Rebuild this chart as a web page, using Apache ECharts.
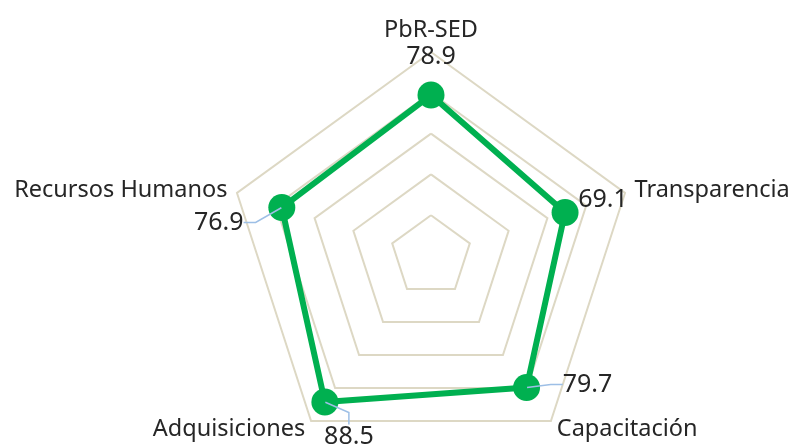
<!DOCTYPE html>
<html>
<head>
<meta charset="utf-8">
<script src="https://cdn.jsdelivr.net/npm/echarts@6/dist/echarts.min.js"></script>
<style>
html,body{margin:0;padding:0;background:#fff;}
#chart{width:795px;height:445px;}
</style>
</head>
<body>
<div id="chart"></div>
<script>
// Indicators in ECharts radar order (counter-clockwise from top)
var categories = ['PbR-SED', 'Recursos Humanos', 'Adquisiciones', 'Capacitación', 'Transparencia'];
var values = [78.9, 76.9, 88.5, 79.7, 69.1];
var maxValue = 100;

// label placement (style only), same order as categories
var labelOffsets = [[0, -38], [-63, 15], [24, 35], [61, -3], [38, -13]];
var labelLineShown = [false, true, true, true, false];

var chart = echarts.init(document.getElementById('chart'), null, {renderer: 'canvas'});
var FONT = '"Noto Sans", "Open Sans", sans-serif';
var CENTER = [431, 256];
var RADIUS = 204;

chart.setOption({
  animation: false,
  backgroundColor: '#ffffff',
  radar: {
    center: CENTER,
    radius: RADIUS,
    shape: 'polygon',
    splitNumber: 5,
    nameGap: 10,
    indicator: categories.map(function (c) { return {name: c, min: 0, max: maxValue}; }),
    axisName: {color: '#262626', fontSize: 23.5, fontFamily: FONT},
    axisLine: {show: false},
    axisTick: {show: false},
    axisLabel: {show: false},
    splitArea: {show: false},
    splitLine: {lineStyle: {color: '#ddd8c4', width: 2}}
  },
  // invisible polar system aligned with the radar, used only to place value labels
  polar: {center: CENTER, radius: RADIUS},
  angleAxis: {
    type: 'category',
    data: categories,
    boundaryGap: false,
    startAngle: 90,
    clockwise: false,
    axisLine: {show: false}, axisTick: {show: false}, axisLabel: {show: false},
    splitLine: {show: false}, splitArea: {show: false}
  },
  radiusAxis: {
    type: 'value', min: 0, max: maxValue,
    axisLine: {show: false}, axisTick: {show: false}, axisLabel: {show: false},
    splitLine: {show: false}, splitArea: {show: false}
  },
  series: [{
    type: 'radar',
    z: 2,
    symbol: 'circle',
    symbolSize: 27,
    lineStyle: {color: '#00b050', width: 6},
    itemStyle: {color: '#00b050'},
    label: {show: false},
    data: [{value: values, name: 'Puntaje'}]
  }, {
    type: 'scatter',
    coordinateSystem: 'polar',
    z: 3,
    symbol: 'circle',
    symbolSize: 1,
    itemStyle: {color: 'rgba(0,0,0,0)', opacity: 1},
    silent: true,
    label: {
      show: true,
      position: 'inside',
      color: '#262626',
      opacity: 1,
      fontSize: 25,
      fontFamily: FONT,
      formatter: function (p) { return String(p.value[0]); }
    },
    labelLine: {
      show: true,
      showAbove: true,
      length2: 12,
      lineStyle: {color: '#9dbfe6', width: 1.5, opacity: 1}
    },
    labelLayout: function (params) {
      var o = labelOffsets[params.dataIndex];
      if (!o) return {};
      return {dx: o[0], dy: o[1]};
    },
    data: values.map(function (v, i) {
      return {value: [v, i], labelLine: {show: labelLineShown[i]}};
    })
  }]
});
</script>
</body>
</html>
